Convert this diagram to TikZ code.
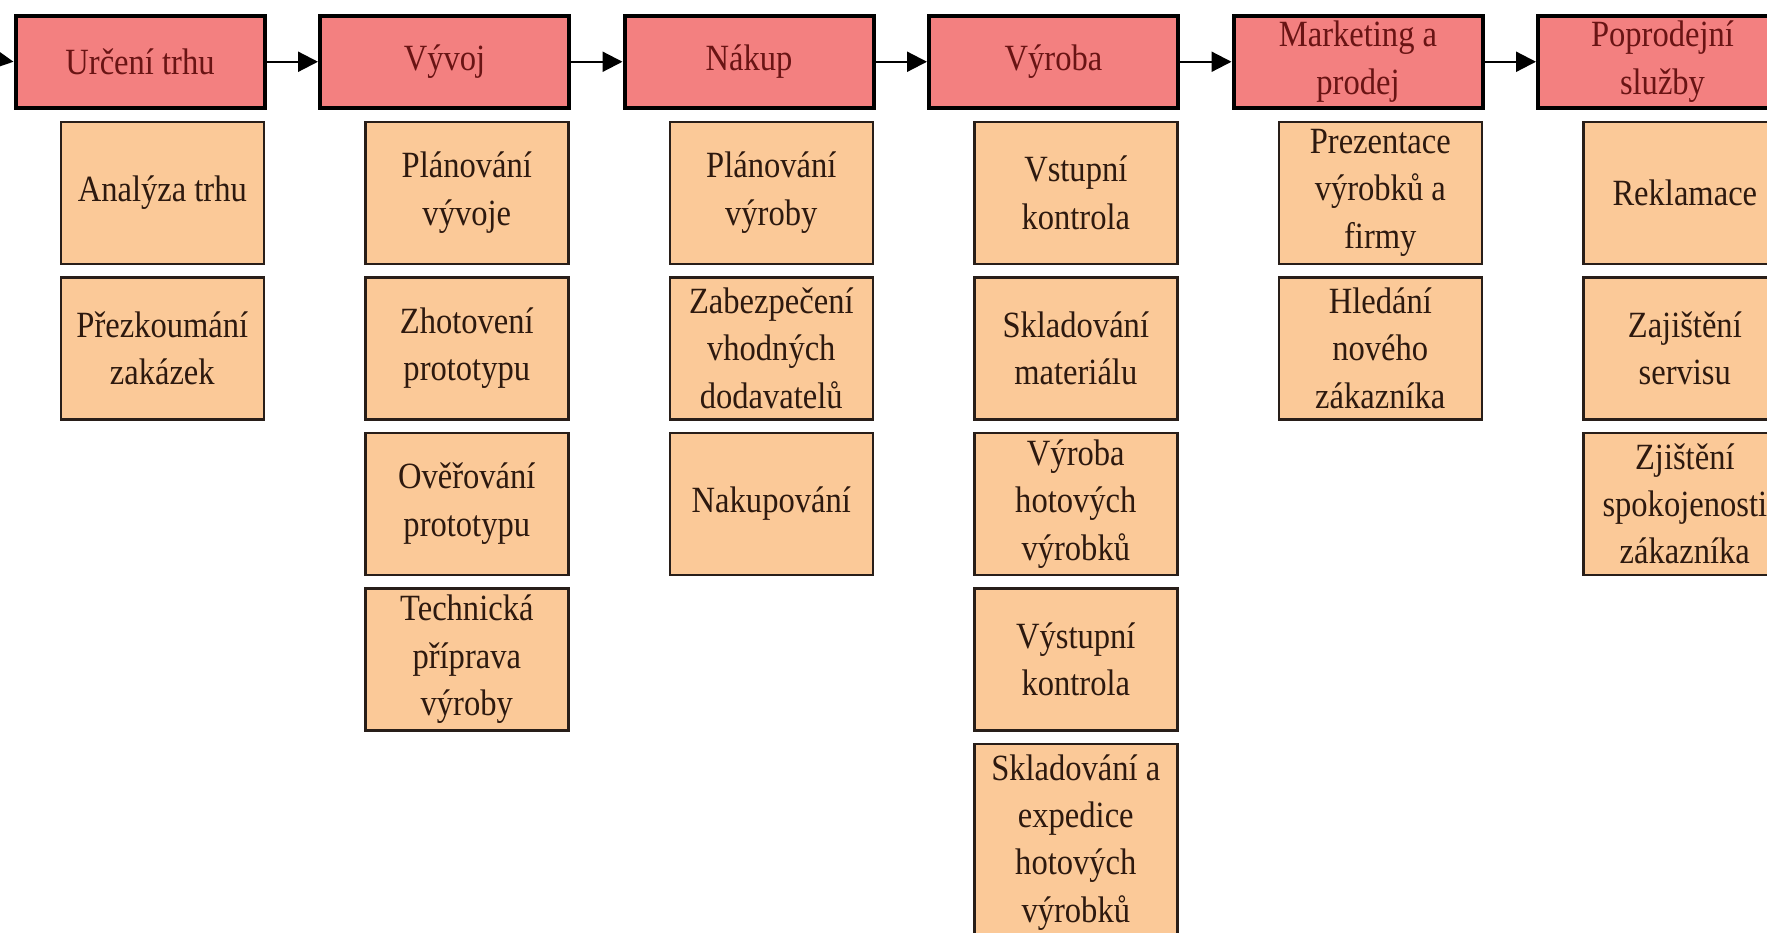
\documentclass[tikz,border=0pt]{standalone}
\usepackage{fontspec}
\setmainfont{Liberation Serif}[FakeStretch=0.88]
\usetikzlibrary{arrows.meta}
\definecolor{headfill}{RGB}{243,128,128}
\definecolor{subfill}{RGB}{251,201,152}
\definecolor{headtext}{RGB}{105,20,20}
\definecolor{subtext}{RGB}{45,25,15}
\definecolor{subline}{RGB}{40,30,25}
\begin{document}
\begin{tikzpicture}[x=0.5pt,y=-0.5pt,
  head/.style={draw=black, line width=2pt, fill=headfill, text=headtext,
    minimum width=124.5pt, minimum height=46.25pt, inner sep=0pt,
    align=center, font=\fontsize{18.5}{23.7}\selectfont, anchor=north west},
  sub/.style={draw=subline, line width=1.3pt, fill=subfill, text=subtext,
    minimum width=101.5pt, minimum height=71pt, inner sep=0pt,
    align=center, font=\fontsize{18.5}{23.7}\selectfont, anchor=north west},
  flow/.style={draw=black, line width=1.1pt, -{Triangle[length=10pt,width=10pt]}}]
\useasboundingbox (0,0) rectangle (1767,932);
\fill[white] (0,0) rectangle (1767,932);
\clip (0,0) rectangle (1767,932);
% headers
\node[head] (h1) at (13.5,13.5) {Určení trhu};
\node[head] (h2) at (318,13.5) {Vývoj};
\node[head] (h3) at (622.5,13.5) {Nákup};
\node[head] (h4) at (927,13.5) {Výroba};
\node[head] (h5) at (1231.5,13.5) {Marketing a\\prodej};
\node[head] (h6) at (1536,13.5) {Poprodejní\\služby};
% arrows
\coordinate (in) at (0,59.75);
\draw[flow] (in) -- (h1.west);
\draw[flow] (h1) -- (h2);
\draw[flow] (h2) -- (h3);
\draw[flow] (h3) -- (h4);
\draw[flow] (h4) -- (h5);
\draw[flow] (h5) -- (h6);
% column 1
\node[sub] (a1) at (59.5,120.5) {Analýza trhu};
\node[sub] (a2) at (59.5,276) {Přezkoumání\\zakázek};
% column 2
\node[sub] (b1) at (364,120.5) {Plánování\\vývoje};
\node[sub] (b2) at (364,276) {Zhotovení\\prototypu};
\node[sub] (b3) at (364,431.5) {Ověřování\\prototypu};
\node[sub] (b4) at (364,587) {Technická\\příprava\\výroby};
% column 3
\node[sub] (c1) at (668.5,120.5) {Plánování\\výroby};
\node[sub] (c2) at (668.5,276) {Zabezpečení\\vhodných\\dodavatelů};
\node[sub] (c3) at (668.5,431.5) {Nakupování};
% column 4
\node[sub] (d1) at (973,120.5) {Vstupní\\kontrola};
\node[sub] (d2) at (973,276) {Skladování\\materiálu};
\node[sub] (d3) at (973,431.5) {Výroba\\hotových\\výrobků};
\node[sub] (d4) at (973,587) {Výstupní\\kontrola};
\node[sub, minimum height=98.5pt] (d5) at (973,742.5) {Skladování a\\expedice\\hotových\\výrobků};
% column 5
\node[sub] (e1) at (1277.5,120.5) {Prezentace\\výrobků a\\firmy};
\node[sub] (e2) at (1277.5,276) {Hledání\\nového\\zákazníka};
% column 6
\node[sub] (f1) at (1582,120.5) {Reklamace};
\node[sub] (f2) at (1582,276) {Zajištění\\servisu};
\node[sub] (f3) at (1582,431.5) {Zjištění\\spokojenosti\\zákazníka};
\end{tikzpicture}
\end{document}
